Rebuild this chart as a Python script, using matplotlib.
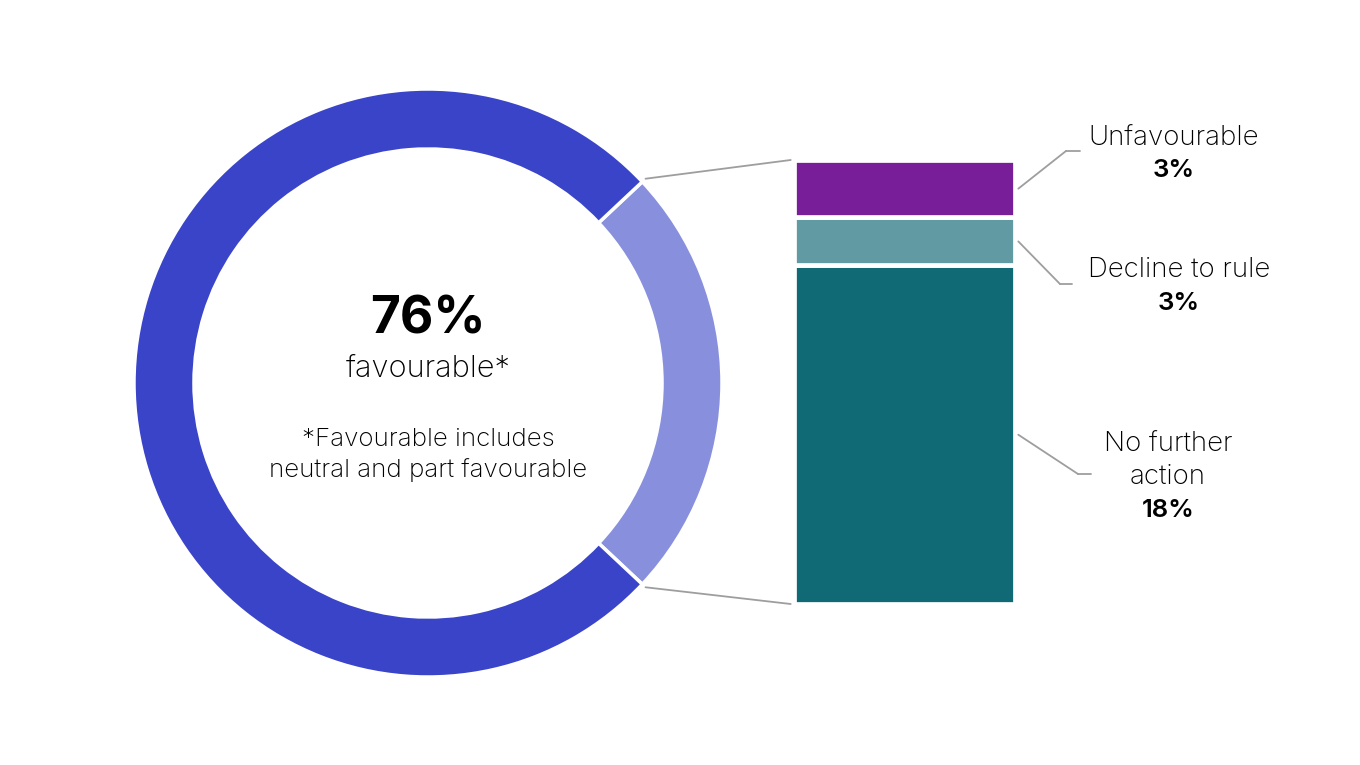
import numpy as np
import matplotlib.pyplot as plt
from matplotlib.patches import ConnectionPatch

plt.rcParams['font.family'] = ['Inter', 'DejaVu Sans']

# donut: share shown in the bar, then the favourable share
donut_labels = ['Other outcomes', 'Favourable']
donut_values = [24, 76]
donut_colors = ['#8890de', '#3944c8']

# stacked bar, bottom to top
bar_labels = [['No further', 'action'], ['Decline to rule'], ['Unfavourable']]
bar_values = [18.3, 2.6, 3.1]
bar_pct_text = ['18%', '3%', '3%']
bar_colors = ['#0f6a75', '#629aa3', '#771e98']

W, H = 1360, 765
fig = plt.figure(figsize=(W / 100, H / 100), dpi=100)


def px_rect(x0, y0, x1, y1):
    return [x0 / W, 1 - y1 / H, (x1 - x0) / W, (y1 - y0) / H]


# ---- donut
ax_pie = fig.add_axes(px_rect(134, 89, 722, 677))
start = -donut_values[0] / sum(donut_values) * 180
ax_pie.pie(donut_values, colors=donut_colors, startangle=start, counterclock=True,
           radius=1, wedgeprops=dict(width=0.204, edgecolor='white', linewidth=2.5))
ax_pie.set_xlim(-1, 1)
ax_pie.set_ylim(-1, 1)
ax_pie.set_aspect('equal')
ax_pie.axis('off')

ax_pie.text(0, 0.170, f'{donut_values[1]}%', ha='center', va='baseline',
            fontsize=37, fontweight='bold', color='black')
ax_pie.text(0, 0.020, 'favourable*', ha='center', va='baseline',
            fontsize=22.2, fontweight='light', color='black')
ax_pie.text(0, -0.214, '*Favourable includes', ha='center', va='baseline',
            fontsize=18.7, fontweight='light', color='black')
ax_pie.text(0, -0.320, 'neutral and part favourable', ha='center', va='baseline',
            fontsize=18.7, fontweight='light', color='black')

# ---- stacked bar
ax_bar = fig.add_axes(px_rect(794, 160, 1015, 604))
bottom = 0
mids = []
for v, c in zip(bar_values, bar_colors):
    ax_bar.bar(0, v, bottom=bottom, width=1, align='edge', color=c,
               edgecolor='white', linewidth=3.4)
    mids.append(bottom + v / 2)
    bottom += v
total = bottom
ax_bar.set_xlim(0, 1)
ax_bar.set_ylim(0, total)
ax_bar.axis('off')

# connectors from the light slice to the bar
ang = np.deg2rad(-start)
line_c = '#9e9e9e'
for sgn, yb in [(1, total), (-1, 0)]:
    con = ConnectionPatch(xyA=(1.015 * np.cos(ang), sgn * 1.015 * np.sin(ang)),
                          coordsA=ax_pie.transData, xyB=(-0.015, yb),
                          coordsB=ax_bar.transData, color=line_c, lw=1.3)
    fig.add_artist(con)

# leader lines: elbow x, elbow y, line end x ; labels: text x, baselines
leaders = [(1078, 474, 1091), (1060, 284, 1072), (1066, 151, 1080)]
label_x = [1168, 1179, 1174]
label_base = [[452, 484, 517], [277, 310], [145, 177]]
for lines, pct, m, (ex, ey, endx), tx, bases in zip(
        bar_labels, bar_pct_text, mids, leaders, label_x, label_base):
    c1 = ConnectionPatch(xyA=(1.015, m), coordsA=ax_bar.transData,
                         xyB=(ex, H - ey), coordsB='figure pixels', color=line_c, lw=1.3)
    c2 = ConnectionPatch(xyA=(ex, H - ey), coordsA='figure pixels',
                         xyB=(endx, H - ey), coordsB='figure pixels', color=line_c, lw=1.3)
    fig.add_artist(c1)
    fig.add_artist(c2)
    for txt, yb in zip(lines, bases[:-1]):
        fig.text(tx / W, 1 - yb / H, txt, ha='center', va='baseline', fontsize=19.9,
                 fontweight='light', color='black')
    fig.text(tx / W, 1 - bases[-1] / H, pct, ha='center', va='baseline',
             fontsize=18.5, fontweight='semibold', color='black')

fig.savefig('out.png', dpi=100, facecolor='white')
